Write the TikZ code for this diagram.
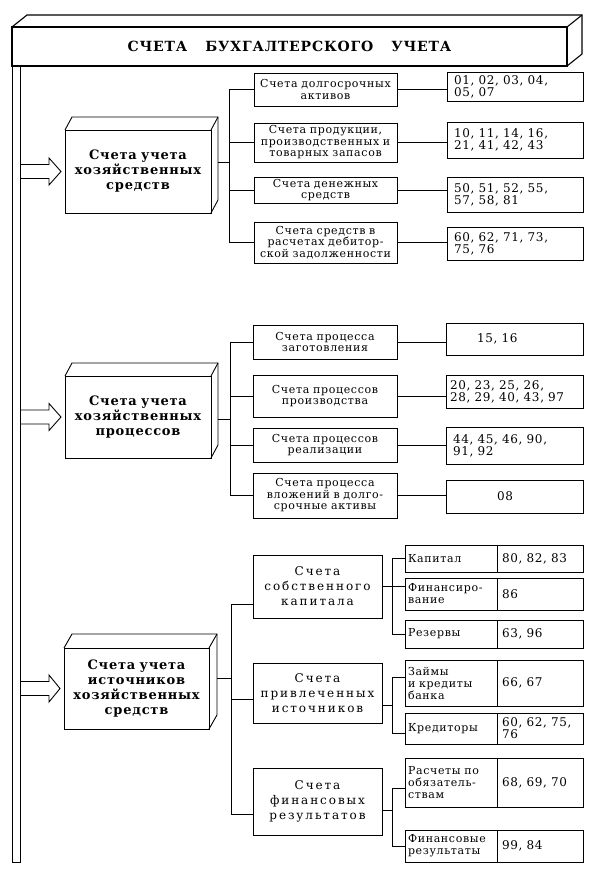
\documentclass[tikz,border=0pt]{standalone}
\usepackage{fontspec}
\setmainfont{DejaVu Serif}[LetterSpace=6]
\newfontfamily\widef{DejaVu Serif}[LetterSpace=16]
\usetikzlibrary{calc}
\newcommand\bx[8]{%
  \pgfmathsetmacro\bxw{#4-#2-2*#7}%
  \pgfmathsetmacro\bxh{#5-#3}%
  \node[#6, inner xsep=#7pt, text width=\bxw pt, minimum height=\bxh pt, anchor=north west] (#1) at (#2,#3) {#8};}
\newcommand\boxfaces[3]{%
  \draw (#1.north west) -- ++(#2,-#3) -- ([shift={(#2,-#3)}]#1.north east) -- ([shift={(#2,-#3)}]#1.south east) -- (#1.south east);
  \draw (#1.north east) -- ++(#2,-#3);}
\newcommand\fatarrow[1]{%
  \coordinate (s) at (bar.east |- #1.west);
  \draw ($(s)+(0,-7)$) -- ++(29,0) -- ++(0,-6.5) -- ($(#1.west)+(-4,0)$) -- ($(s)+(29,13.5)$) -- ++(0,-6.5) -- ++(-29,0);}
\begin{document}
\begin{tikzpicture}[x=1pt,y=-1pt,line width=0.9pt,
  every node/.style={outer sep=0pt, inner ysep=1pt},
  sbox/.style={draw, align=center, font=\fontsize{11}{11.5}\selectfont},
  nbox/.style={draw, align=left, font=\fontsize{12}{12}\selectfont},
  bigbox/.style={draw, align=center, font=\fontsize{13}{15}\selectfont\bfseries},
  midbox/.style={draw, align=center, font=\widef\fontsize{12}{15}\selectfont},
  rbox/.style={draw, align=left, font=\fontsize{11}{12}\selectfont},
  vbox/.style={draw, align=left, font=\fontsize{12}{12}\selectfont},
  hdrbox/.style={draw, line width=1.1pt, align=center, font=\fontsize{14}{14}\selectfont\bfseries}]
\useasboundingbox (0,0) rectangle (593,870);

% header
\bx{hdr}{12}{27}{567}{66}{hdrbox}{2}{СЧЕТА\hspace{18pt}БУХГАЛТЕРСКОГО\hspace{18pt}УЧЕТА}
\begin{scope}[line width=1.1pt]
\boxfaces{hdr}{15}{12}
\end{scope}
\node[draw, anchor=north west, minimum width=8pt, minimum height=796pt, inner sep=0pt] (bar) at (12,66) {};

% block 1
\bx{b1}{65}{130}{211}{213}{bigbox}{2}{Счета учета\\хозяйственных\\средств}
\boxfaces{b1}{7}{13}
\fatarrow{b1}
\bx{c11}{254}{73}{397}{106}{sbox}{1}{Счета долгосрочных\\активов}
\bx{c12}{254}{123}{397}{162}{sbox}{1}{Счета продукции,\\производственных и\\товарных запасов}
\bx{c13}{254}{177}{397}{203}{sbox}{1}{Счета денежных\\средств}
\bx{c14}{254}{222}{397}{263}{sbox}{1}{Счета средств в\\расчетах дебитор-\\ской задолженности}
\bx{n11}{447}{72}{583}{101}{nbox}{7}{01, 02, 03, 04,\\05, 07}
\bx{n12}{447}{122}{583}{158}{nbox}{7}{10, 11, 14, 16,\\21, 41, 42, 43}
\bx{n13}{447}{177}{583}{212}{nbox}{7}{50, 51, 52, 55,\\57, 58, 81}
\bx{n14}{447}{227}{583}{260}{nbox}{7}{60, 62, 71, 73,\\75, 76}
\coordinate (t1) at (229,0);
\coordinate (b1o) at ([shift={(7,-9)}]b1.east);
\draw (b1o) -- (b1o -| t1);
\draw (c11.west) -- (c11.west -| t1) -- (c14.west -| t1) -- (c14.west);
\draw (c12.west) -- (c12.west -| t1);
\draw (c13.west) -- (c13.west -| t1);
\foreach \i in {1,...,4}{\draw (c1\i.east) -- (c1\i.east -| n1\i.west);}

% block 2
\bx{b2}{65}{376}{211}{458}{bigbox}{2}{Счета учета\\хозяйственных\\процессов}
\boxfaces{b2}{7}{13}
\fatarrow{b2}
\bx{c21}{253}{325}{397}{359}{sbox}{1}{Счета процесса\\заготовления}
\bx{c22}{253}{375}{397}{417}{sbox}{1}{Счета процессов\\производства}
\bx{c23}{253}{428}{397}{462}{sbox}{1}{Счета процессов\\реализации}
\bx{c24}{253}{473}{397}{518}{sbox}{1}{Счета процесса\\вложений в долго-\\срочные активы}
\bx{n21}{446}{323}{583}{355}{nbox}{31}{15, 16}
\bx{n22}{446}{375}{583}{408}{nbox}{4}{20, 23, 25, 26,\\28, 29, 40, 43, 97}
\bx{n23}{446}{427}{583}{464}{nbox}{7}{44, 45, 46, 90,\\91, 92}
\bx{n24}{446}{480}{583}{513}{nbox}{51}{08}
\coordinate (t2) at (230,0);
\coordinate (b2o) at ([shift={(7,2)}]b2.east);
\draw (b2o) -- (b2o -| t2);
\draw (c21.west) -- (c21.west -| t2) -- (c24.west -| t2) -- (c24.west);
\draw (c22.west) -- (c22.west -| t2);
\draw (c23.west) -- (c23.west -| t2);
\foreach \i in {1,...,4}{\draw (c2\i.east) -- (c2\i.east -| n2\i.west);}

% block 3
\bx{b3}{64}{648}{209}{729}{bigbox}{2}{Счета учета\\источников\\хозяйственных\\средств}
\boxfaces{b3}{8}{14}
\fatarrow{b3}
\bx{m1}{253}{555}{382}{618}{midbox}{1}{Счета\\собственного\\капитала}
\bx{m2}{253}{663}{382}{723}{midbox}{1}{Счета\\привлеченных\\источников}
\bx{m3}{253}{768}{382}{835}{midbox}{1}{Счета\\финансовых\\результатов}
\bx{r1}{405}{545}{497}{572}{rbox}{3}{Капитал}
\bx{v1}{497}{545}{583}{572}{vbox}{5}{80, 82, 83}
\bx{r2}{405}{578}{497}{610}{rbox}{3}{Финансиро-\\вание}
\bx{v2}{497}{578}{583}{610}{vbox}{5}{86}
\bx{r3}{405}{620}{497}{648}{rbox}{3}{Резервы}
\bx{v3}{497}{620}{583}{648}{vbox}{5}{63, 96}
\bx{r4}{405}{660}{497}{706}{rbox}{3}{Займы\\и кредиты\\банка}
\bx{v4}{497}{660}{583}{706}{vbox}{5}{66, 67}
\bx{r5}{405}{713}{497}{744}{rbox}{3}{Кредиторы}
\bx{v5}{497}{713}{583}{744}{vbox}{5}{60, 62, 75,\\76}
\bx{r6}{405}{758}{497}{807}{rbox}{3}{Расчеты по\\обязатель-\\ствам}
\bx{v6}{497}{758}{583}{807}{vbox}{5}{68, 69, 70}
\bx{r7}{405}{830}{497}{862}{rbox}{3}{Финансовые\\результаты}
\bx{v7}{497}{830}{583}{862}{vbox}{5}{99, 84}
\coordinate (t3) at (231,0);
\coordinate (b3o) at ([shift={(8,-10)}]b3.east);
\draw (b3o) -- (b3o -| t3);
\coordinate (m1w) at ([yshift=-18pt]m1.west);
\coordinate (m2w) at ([yshift=-6pt]m2.west);
\coordinate (m3w) at ([yshift=-13pt]m3.west);
\draw (m1w) -- (m1w -| t3) -- (m3w -| t3) -- (m3w);
\draw (m2w) -- (m2w -| t3);
\coordinate (s1) at (392,0);
\draw (m1.east) -- (m1.east -| r2.west);
\draw (r1.west) -- (r1.west -| s1) -- (r3.west -| s1) -- (r3.west);
\coordinate (m2e) at ([yshift=-12pt]m2.east);
\coordinate (r4w) at ([yshift=6pt]r4.west);
\coordinate (r5w) at ([yshift=-4.5pt]r5.west);
\draw (m2e) -- (m2e -| s1);
\draw (r4w) -- (r4w -| s1) -- (r5w -| s1) -- (r5w);
\coordinate (m3e) at ([yshift=-9pt]m3.east);
\coordinate (r6w) at ([yshift=-5.5pt]r6.west);
\draw (m3e) -- (m3e -| s1);
\draw (r6w) -- (r6w -| s1) -- (r7.west -| s1) -- (r7.west);
\end{tikzpicture}
\end{document}
